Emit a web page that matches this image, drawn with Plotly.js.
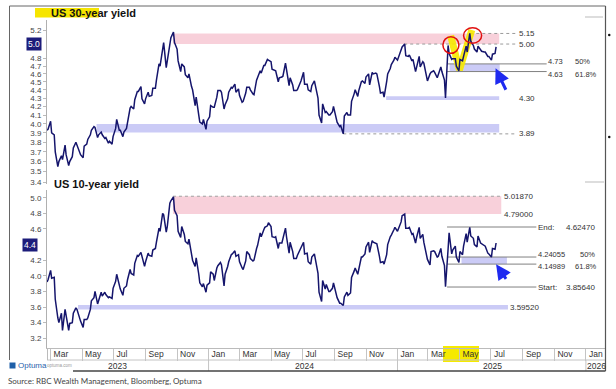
<!DOCTYPE html>
<html><head><meta charset="utf-8">
<script src="https://cdn.plot.ly/plotly-3.0.1.min.js"></script>
<style>html,body{margin:0;padding:0;background:#fff;}#chart{width:616px;height:389px;}</style>
</head><body><div id="chart"></div>
<script>
// ---- data: mid-week and Friday readings, grouped by month of the Friday ----
const dates = [
"2023-02-22","2023-02-24",
"2023-03-01","2023-03-03","2023-03-08","2023-03-10","2023-03-15","2023-03-17","2023-03-22","2023-03-24","2023-03-29","2023-03-31",
"2023-04-05","2023-04-07","2023-04-12","2023-04-14","2023-04-19","2023-04-21","2023-04-26","2023-04-28",
"2023-05-03","2023-05-05","2023-05-10","2023-05-12","2023-05-17","2023-05-19","2023-05-24","2023-05-26",
"2023-05-31","2023-06-02","2023-06-07","2023-06-09","2023-06-14","2023-06-16","2023-06-21","2023-06-23","2023-06-28","2023-06-30",
"2023-07-05","2023-07-07","2023-07-12","2023-07-14","2023-07-19","2023-07-21","2023-07-26","2023-07-28",
"2023-08-02","2023-08-04","2023-08-09","2023-08-11","2023-08-16","2023-08-18","2023-08-23","2023-08-25",
"2023-08-30","2023-09-01","2023-09-06","2023-09-08","2023-09-13","2023-09-15","2023-09-20","2023-09-22","2023-09-27","2023-09-29",
"2023-10-04","2023-10-06","2023-10-11","2023-10-13","2023-10-18","2023-10-20","2023-10-25","2023-10-27",
"2023-11-01","2023-11-03","2023-11-08","2023-11-10","2023-11-15","2023-11-17","2023-11-22","2023-11-24",
"2023-11-29","2023-12-01","2023-12-06","2023-12-08","2023-12-13","2023-12-15","2023-12-20","2023-12-22","2023-12-27","2023-12-29",
"2024-01-03","2024-01-05","2024-01-10","2024-01-12","2024-01-17","2024-01-19","2024-01-24","2024-01-26",
"2024-01-31","2024-02-02","2024-02-07","2024-02-09","2024-02-14","2024-02-16","2024-02-21","2024-02-23",
"2024-02-28","2024-03-01","2024-03-06","2024-03-08","2024-03-13","2024-03-15","2024-03-20","2024-03-22","2024-03-27","2024-03-29",
"2024-04-03","2024-04-05","2024-04-10","2024-04-12","2024-04-17","2024-04-19","2024-04-24","2024-04-26",
"2024-05-01","2024-05-03","2024-05-08","2024-05-10","2024-05-15","2024-05-17","2024-05-22","2024-05-24","2024-05-29","2024-05-31",
"2024-06-05","2024-06-07","2024-06-12","2024-06-14","2024-06-19","2024-06-21","2024-06-26","2024-06-28",
"2024-07-03","2024-07-05","2024-07-10","2024-07-12","2024-07-17","2024-07-19","2024-07-24","2024-07-26",
"2024-07-31","2024-08-02","2024-08-07","2024-08-09","2024-08-14","2024-08-16","2024-08-21","2024-08-23","2024-08-28","2024-08-30",
"2024-09-04","2024-09-06","2024-09-11","2024-09-13","2024-09-18","2024-09-20","2024-09-25","2024-09-27",
"2024-10-02","2024-10-04","2024-10-09","2024-10-11","2024-10-16","2024-10-18","2024-10-23","2024-10-25",
"2024-10-30","2024-11-01","2024-11-06","2024-11-08","2024-11-13","2024-11-15","2024-11-20","2024-11-22","2024-11-27","2024-11-29",
"2024-12-04","2024-12-06","2024-12-11","2024-12-13","2024-12-18","2024-12-20","2024-12-25","2024-12-27",
"2025-01-01","2025-01-03","2025-01-08","2025-01-10","2025-01-15","2025-01-17","2025-01-22","2025-01-24","2025-01-29","2025-01-31",
"2025-02-05","2025-02-07","2025-02-12","2025-02-14","2025-02-19","2025-02-21","2025-02-26","2025-02-28",
"2025-03-05","2025-03-07","2025-03-12","2025-03-14","2025-03-19","2025-03-21","2025-03-26","2025-03-28",
"2025-04-02","2025-04-04","2025-04-09","2025-04-11","2025-04-16","2025-04-18","2025-04-23","2025-04-25",
"2025-04-30","2025-05-02","2025-05-07","2025-05-09","2025-05-14","2025-05-16","2025-05-21","2025-05-23","2025-05-28","2025-05-30",
"2025-06-04","2025-06-06","2025-06-11","2025-06-13","2025-06-18","2025-06-20","2025-06-25","2025-06-27",
"2025-07-02","2025-07-04","2025-07-09","2025-07-11"
];
const yield30 = [
3.93,3.94,
4.03,3.90,3.88,3.70,3.55,3.60,3.66,3.62,3.77,3.67,
3.56,3.60,3.65,3.74,3.80,3.77,3.70,3.67,
3.64,3.76,3.78,3.83,3.88,3.93,3.97,3.96,
3.85,3.88,3.91,3.88,3.84,3.85,3.79,3.81,3.78,3.86,
3.95,4.05,3.93,3.93,3.86,3.91,3.95,4.02,
4.18,4.20,4.17,4.28,4.38,4.38,4.44,4.29,
4.23,4.29,4.37,4.32,4.33,4.42,4.42,4.52,4.73,4.70,
4.92,5.02,4.68,4.78,5.00,5.09,5.17,5.02,
4.93,4.77,4.63,4.73,4.69,4.59,4.55,4.60,
4.44,4.40,4.21,4.31,4.10,4.02,4.00,4.05,3.94,4.03,
4.08,4.21,4.19,4.19,4.31,4.39,4.39,4.37,
4.17,4.22,4.29,4.37,4.43,4.42,4.47,4.37,
4.41,4.33,4.25,4.26,4.36,4.43,4.43,4.40,4.35,4.34,
4.52,4.55,4.64,4.61,4.71,4.71,4.79,4.78,
4.76,4.66,4.64,4.64,4.50,4.55,4.56,4.57,4.74,4.65,
4.45,4.55,4.46,4.39,4.39,4.40,4.47,4.51,
4.62,4.47,4.47,4.40,4.38,4.45,4.51,4.45,
4.30,4.10,4.01,4.23,4.13,4.14,4.10,4.10,4.14,4.20,
4.07,4.02,3.97,3.98,3.89,4.09,4.13,4.10,
4.10,4.26,4.35,4.40,4.32,4.39,4.50,4.51,
4.48,4.56,4.60,4.46,4.62,4.60,4.61,4.60,4.44,4.36,
4.37,4.31,4.50,4.60,4.67,4.72,4.78,4.82,
4.78,4.82,4.93,4.96,5.00,4.84,4.83,4.85,4.77,4.79,
4.63,4.69,4.83,4.69,4.76,4.74,4.55,4.51,
4.60,4.62,4.64,4.62,4.55,4.60,4.69,4.63,
4.52,4.30,4.98,4.87,4.79,4.80,4.80,4.70,
4.64,4.79,4.77,4.83,4.97,4.89,5.15,5.04,4.98,4.93,
4.89,4.97,4.91,4.90,4.89,4.89,4.83,4.83,
4.78,4.86,4.87,4.96
];
const yield10 = [
3.92,3.95,
4.07,3.97,3.98,3.70,3.46,3.40,3.52,3.30,3.57,3.49,
3.30,3.39,3.40,3.52,3.59,3.57,3.44,3.42,
3.34,3.44,3.44,3.46,3.57,3.68,3.72,3.80,
3.64,3.69,3.79,3.74,3.79,3.76,3.72,3.73,3.71,3.84,
3.93,4.02,3.86,3.83,3.75,3.84,3.87,3.95,
4.08,4.03,4.01,4.16,4.26,4.25,4.30,4.24,
4.12,4.18,4.29,4.26,4.25,4.33,4.35,4.43,4.61,4.57,
4.80,4.78,4.56,4.63,4.93,4.96,5.01,4.84,
4.77,4.57,4.49,4.63,4.53,4.44,4.41,4.47,
4.27,4.20,4.12,4.23,4.02,3.91,3.86,3.90,3.79,3.88,
3.91,4.05,4.02,3.94,4.10,4.13,4.17,4.14,
3.87,4.02,4.12,4.18,4.27,4.28,4.32,4.25,
4.27,4.18,4.10,4.08,4.19,4.31,4.27,4.22,4.19,4.20,
4.35,4.39,4.55,4.50,4.59,4.62,4.64,4.68,
4.63,4.50,4.49,4.50,4.35,4.42,4.42,4.47,4.61,4.50,
4.29,4.43,4.31,4.22,4.22,4.26,4.32,4.36,
4.43,4.28,4.29,4.18,4.15,4.24,4.28,4.20,
4.03,3.79,3.67,3.94,3.83,3.89,3.80,3.80,3.84,3.91,
3.76,3.72,3.65,3.65,3.62,3.73,3.79,3.75,
3.78,3.98,4.06,4.10,4.02,4.08,4.24,4.24,
4.28,4.37,4.43,4.30,4.45,4.43,4.41,4.41,4.25,4.17,
4.18,4.15,4.27,4.40,4.50,4.52,4.59,4.62,
4.57,4.60,4.69,4.77,4.79,4.61,4.61,4.62,4.53,4.54,
4.42,4.49,4.62,4.48,4.53,4.43,4.25,4.21,
4.14,4.31,4.32,4.31,4.24,4.25,4.35,4.25,
4.13,3.86,4.34,4.55,4.28,4.33,4.38,4.24,
4.17,4.31,4.27,4.38,4.54,4.43,4.62,4.51,4.48,4.40,
4.37,4.51,4.42,4.41,4.39,4.38,4.29,4.28,
4.24,4.35,4.34,4.42
];

// ---- axes text ----
const ticks30 = [3.4,3.5,3.6,3.7,3.8,3.9,4.0,4.1,4.2,4.3,4.4,4.5,4.6,4.7,4.8,5.2];
const ticks10 = [3.2,3.4,3.6,3.8,4.0,4.2,4.6,4.8,5.0];
const current30 = 5.0, current10 = 4.4;
const monthTickDates = ["2023-03-01","2023-05-01","2023-07-01","2023-09-01","2023-11-01","2024-01-01","2024-03-01","2024-05-01","2024-07-01","2024-09-01","2024-11-01","2025-01-01","2025-03-01","2025-05-01","2025-07-01","2025-09-01","2025-11-01","2026-01-01"];
const monthTickLabels = ["Mar","May","Jul","Sep","Nov","Jan","Mar","May","Jul","Sep","Nov","Jan","Mar","May","Jul","Sep","Nov","Jan"];
const yearSepDates = ["2024-01-01","2025-01-01","2026-01-01"];
const yearLabels = ["2023","2024","2025","2026"];
const yearLabelDates = ["2023-07-08","2024-07-04","2025-07-04","2026-01-21"];
const xRange = ["2023-02-22","2026-02-07"];

// ---- levels ----
const band30Resist = [5.00, 5.15];
const band30Fib = [4.63, 4.73];
const band30Low = [4.277, 4.322];
const band30Base = [3.905, 4.00];
const dashed30 = [5.15, 5.00, 3.89];
const dashed30Start = ["2025-05-22","2025-01-14","2024-09-18"];
const labels30 = [5.15, 5.00, 4.30, 3.89];
const fib30 = [4.73, 4.63];
const fib30Pct = ["50%","61.8%"];

const band10Resist = [4.79, 5.0187];
const fib10 = [4.62470, 4.24055, 4.14989, 3.85640];
const fib10Names = ["End:","","","Start:"];
const fib10Pct = ["","50%","61.8%",""];
const band10Fib = [4.14989, 4.24055];
const support10 = 3.59520;
const band10Support = [3.567, 3.625];

const highlightDates = ["2025-04-14","2025-05-01","2025-05-25"];
const highlightValues = [5.12, 4.651, 5.20];

// ---- helpers ----
const W = 616, H = 389;
const P = x => x / W, Q = y => 1 - y / H;
const FONT = "Liberation Sans, Arial, sans-serif";
const lg = Math.log10;
const pink = "rgba(240,150,172,0.45)", lav = "rgba(140,140,235,0.45)";

const shapes = [];
const ann = [];
function rect(xr, yr, x0, x1, y0, y1, fill, layer) {
  shapes.push({type:"rect", xref:xr, yref:yr, x0, x1, y0, y1, fillcolor:fill, line:{width:0}, layer:layer||"below"});
}
function hline(xr, yr, x0, x1, y, color, dash, w) {
  shapes.push({type:"line", xref:xr, yref:yr, x0, x1, y0:y, y1:y, line:{color, width:w||1, dash:dash||"solid"}, layer:"below"});
}
function label(xr, yr, x, y, text, size, shift) {
  ann.push({xref:xr, yref:yr, x, y, text, showarrow:false, xanchor:"left", yanchor:"middle", yshift:shift||0,
    font:{family:FONT, size:size||8.5, color:"#333"}, borderpad:0});
}

// top panel (30y, log axis)
rect("x2","y2","2023-10-24","2025-07-17", band30Resist[0], band30Resist[1], pink);
rect("x2","y2","2025-04-12","2025-07-18", band30Fib[0], band30Fib[1], lav);
rect("x2","y2","2024-12-10","2025-07-17", band30Low[0], band30Low[1], lav);
rect("x2","y2","2023-05-29","2025-07-17", band30Base[0], band30Base[1], lav);
dashed30.forEach((v,i) => hline("x2","y2", dashed30Start[i], "2025-08-20", v, "#9a9a9a", "dot"));
fib30.forEach(v => hline("x2","y2","2025-04-07","2025-10-17", v, "#808080"));
labels30.forEach(v => label("x2","y2","2025-08-23", lg(v), v.toFixed(2), 8));
fib30.forEach((v,i) => {
  const s = i === 0 ? 2.5 : -2.5;
  label("x2","y2","2025-10-17", lg(v), v.toFixed(2), 7.5, s);
  label("x2","y2","2025-12-08", lg(v), fib30Pct[i], 7.5, s);
});

// bottom panel (10y)
rect("x","y","2023-10-24","2025-07-21", band10Resist[0], band10Resist[1], pink);
hline("x","y","2023-10-24","2025-07-21", band10Resist[1], "#a0a0a0", "dot");
rect("x","y","2025-05-05","2025-08-01", band10Fib[0], band10Fib[1], lav);
rect("x","y","2023-04-23","2025-08-03", band10Support[0], band10Support[1], lav);
fib10.forEach(v => hline("x","y","2025-04-07","2025-09-27", v, "#808080"));
label("x","y","2025-07-24", band10Resist[1], band10Resist[1].toFixed(5), 8);
label("x","y","2025-07-24", band10Resist[0], band10Resist[0].toFixed(5), 8);
fib10.forEach((v,i) => {
  if (fib10Names[i]) {
    label("x","y","2025-09-29", v, fib10Names[i], 8);
    label("x","y","2025-11-22", v, v.toFixed(5), 8);
  } else {
    const s = i === 1 ? 2.5 : -2.5;
    label("x","y","2025-09-29", v, v.toFixed(5), 7.5, s);
    label("x","y", i === 1 ? "2025-12-18" : "2025-12-08", v, fib10Pct[i], 7.5, s);
  }
});
label("x","y","2025-08-05", support10, support10.toFixed(5), 8);

// red circles (top)
shapes.push({type:"circle", xref:"x2", yref:"y2", x0:"2025-03-30", x1:"2025-04-30", y0:4.872, y1:5.104, line:{color:"#e01010", width:1.5}, layer:"above"});
shapes.push({type:"circle", xref:"x2", yref:"y2", x0:"2025-05-09", x1:"2025-06-13", y0:5.01, y1:5.233, line:{color:"#e01010", width:1.5}, layer:"above"});

// blue arrows
ann.push({xref:"x2", yref:"y2", x:"2025-07-10", y:lg(4.673), ax:11, ay:23, text:"", showarrow:true, arrowhead:2, arrowsize:1, arrowwidth:3, arrowcolor:"#1f2af0"});
ann.push({xref:"x", yref:"y", x:"2025-07-11", y:4.147, ax:11, ay:16, text:"", showarrow:true, arrowhead:2, arrowsize:1, arrowwidth:3, arrowcolor:"#1f2af0"});

// current value boxes
ann.push({xref:"paper", yref:"y2", x:P(42), y:lg(current30), text:current30.toFixed(1), showarrow:false, xanchor:"right", yanchor:"middle", bgcolor:"#1c1c7a", borderpad:1, font:{family:FONT, size:8.5, color:"#fff"}});
ann.push({xref:"paper", yref:"y", x:P(37.5), y:current10, text:current10.toFixed(1), showarrow:false, xanchor:"right", yanchor:"middle", bgcolor:"#1c1c7a", borderpad:1, font:{family:FONT, size:8.5, color:"#fff"}});

// titles
shapes.push({type:"rect", xref:"paper", yref:"paper", x0:P(35), x1:P(99), y0:Q(17.5), y1:Q(8), fillcolor:"#f6e500", line:{width:0}, layer:"below"});
ann.push({xref:"paper", yref:"paper", x:P(49), y:Q(13.5), text:"<b>US 30-year yield</b>", showarrow:false, xanchor:"left", yanchor:"middle", font:{family:FONT, size:11, color:"#111"}});
ann.push({xref:"paper", yref:"paper", x:P(52), y:Q(184), text:"<b>US 10-year yield</b>", showarrow:false, xanchor:"left", yanchor:"middle", font:{family:FONT, size:11, color:"#111"}});

// axis strip: May highlight, year row
shapes.push({type:"rect", xref:"paper", yref:"paper", x0:P(443), x1:P(479), y0:Q(362), y1:Q(346), fillcolor:"#f6ea00", line:{width:0}, layer:"below"});
shapes.push({type:"line", xref:"paper", yref:"paper", x0:P(47), x1:P(605), y0:Q(360), y1:Q(360), line:{color:"#c4c4c4", width:1}});
yearSepDates.forEach(d => shapes.push({type:"line", xref:"x", yref:"paper", x0:d, x1:d, y0:Q(360), y1:Q(371), line:{color:"#c4c4c4", width:1}}));
yearLabels.forEach((t,i) => ann.push({xref:"x", yref:"paper", x:yearLabelDates[i], y:Q(365.5), text:t, showarrow:false, xanchor:"center", yanchor:"middle", font:{family:FONT, size:8.5, color:"#333"}}));
shapes.push({type:"line", xref:"paper", yref:"paper", x0:P(47.5), x1:P(47.5), y0:Q(348), y1:Q(360), line:{color:"#bbb", width:1}});

// frame
shapes.push({type:"line", xref:"paper", yref:"paper", x0:P(9.5), x1:P(9.5), y0:Q(6), y1:Q(360), line:{color:"#666", width:1}});
shapes.push({type:"line", xref:"paper", yref:"paper", x0:P(9.5), x1:P(605.5), y0:Q(6), y1:Q(6), line:{color:"#666", width:1}});
shapes.push({type:"line", xref:"paper", yref:"paper", x0:P(605.5), x1:P(605.5), y0:Q(6), y1:Q(371), line:{color:"#555", width:1.2}});
shapes.push({type:"line", xref:"paper", yref:"paper", x0:P(73), x1:P(605.5), y0:Q(371), y1:Q(371), line:{color:"#444", width:1.5}});
shapes.push({type:"line", xref:"paper", yref:"paper", x0:P(585), x1:P(603), y0:Q(17), y1:Q(17), line:{color:"#bbb", width:1}});
shapes.push({type:"line", xref:"paper", yref:"paper", x0:P(585), x1:P(604), y0:Q(182), y1:Q(182), line:{color:"#bbb", width:1}});
[35,137].forEach(y => shapes.push({type:"circle", xref:"paper", yref:"paper", x0:P(608), x1:P(610.5), y0:Q(y+1.2), y1:Q(y-1.2), fillcolor:"#111", line:{width:0}}));

// logo + source
shapes.push({type:"rect", xref:"paper", yref:"paper", x0:P(9.5), x1:P(15.5), y0:Q(368.5), y1:Q(362.5), fillcolor:"#1f5fa8", line:{width:0}});
ann.push({xref:"paper", yref:"paper", x:P(15.5), y:Q(365.5), text:"Optuma", showarrow:false, xanchor:"left", yanchor:"middle", font:{family:FONT, size:8, color:"#2a63ad"}});
ann.push({xref:"paper", yref:"paper", x:P(45), y:Q(365.5), text:"optuma.com", showarrow:false, xanchor:"left", yanchor:"middle", font:{family:FONT, size:4.5, color:"#999"}});
ann.push({xref:"paper", yref:"paper", x:P(6), y:Q(381), text:"Source: RBC Wealth Management, Bloomberg, Optuma", showarrow:false, xanchor:"left", yanchor:"middle", font:{family:"Lato, Open Sans, sans-serif", size:8, color:"#444"}});

const traces = [
  {type:"scatter", mode:"lines", x:highlightDates, y:highlightValues, xaxis:"x2", yaxis:"y2", line:{color:"rgba(246,232,0,0.9)", width:7}, hoverinfo:"skip"},
  {type:"scatter", mode:"lines", x:dates, y:yield30, xaxis:"x2", yaxis:"y2", line:{color:"#15156c", width:1.5}},
  {type:"scatter", mode:"lines", x:dates, y:yield10, xaxis:"x", yaxis:"y", line:{color:"#15156c", width:1.5}}
];

const yTickFont = {family:FONT, size:8, color:"#444"};
const layout = {
  width: W, height: H, margin:{l:0, r:0, t:0, b:0},
  paper_bgcolor:"#fff", plot_bgcolor:"rgba(0,0,0,0)", showlegend:false,
  xaxis:{domain:[P(47),P(605)], anchor:"y", type:"date", range:xRange, showline:true, linecolor:"#bbb", linewidth:1,
    ticks:"outside", ticklen:12, tickcolor:"#c4c4c4", tickwidth:1, tickmode:"array", tickvals:monthTickDates, ticktext:monthTickLabels,
    ticklabelposition:"outside right", ticklabelstandoff:-2, ticklabelshift:2,
    tickfont:{family:FONT, size:8.5, color:"#333"}, showgrid:false, zeroline:false, fixedrange:true},
  xaxis2:{domain:[P(47),P(605)], anchor:"y2", matches:"x", type:"date", showticklabels:false, ticks:"", showline:false, showgrid:false, zeroline:false},
  yaxis:{domain:[Q(348),Q(190)], range:[3.0756,5.0986], tickmode:"array", tickvals:ticks10, ticktext:ticks10.map(v=>v.toFixed(1)),
    ticks:"outside", ticklen:3, tickcolor:"#bbb", showline:true, linecolor:"#b0b0b0", showgrid:false, zeroline:false, tickfont:yTickFont},
  yaxis2:{domain:[Q(184),Q(20)], type:"log", range:[0.52911,0.72814], tickmode:"array", tickvals:ticks30, ticktext:ticks30.map(v=>v.toFixed(1)),
    ticks:"outside", ticklen:3, tickcolor:"#bbb", showline:true, linecolor:"#b0b0b0", showgrid:false, zeroline:false, tickfont:yTickFont, anchor:"x2"},
  shapes, annotations: ann
};
Plotly.newPlot("chart", traces, layout, {staticPlot:true, displayModeBar:false});
</script></body></html>
